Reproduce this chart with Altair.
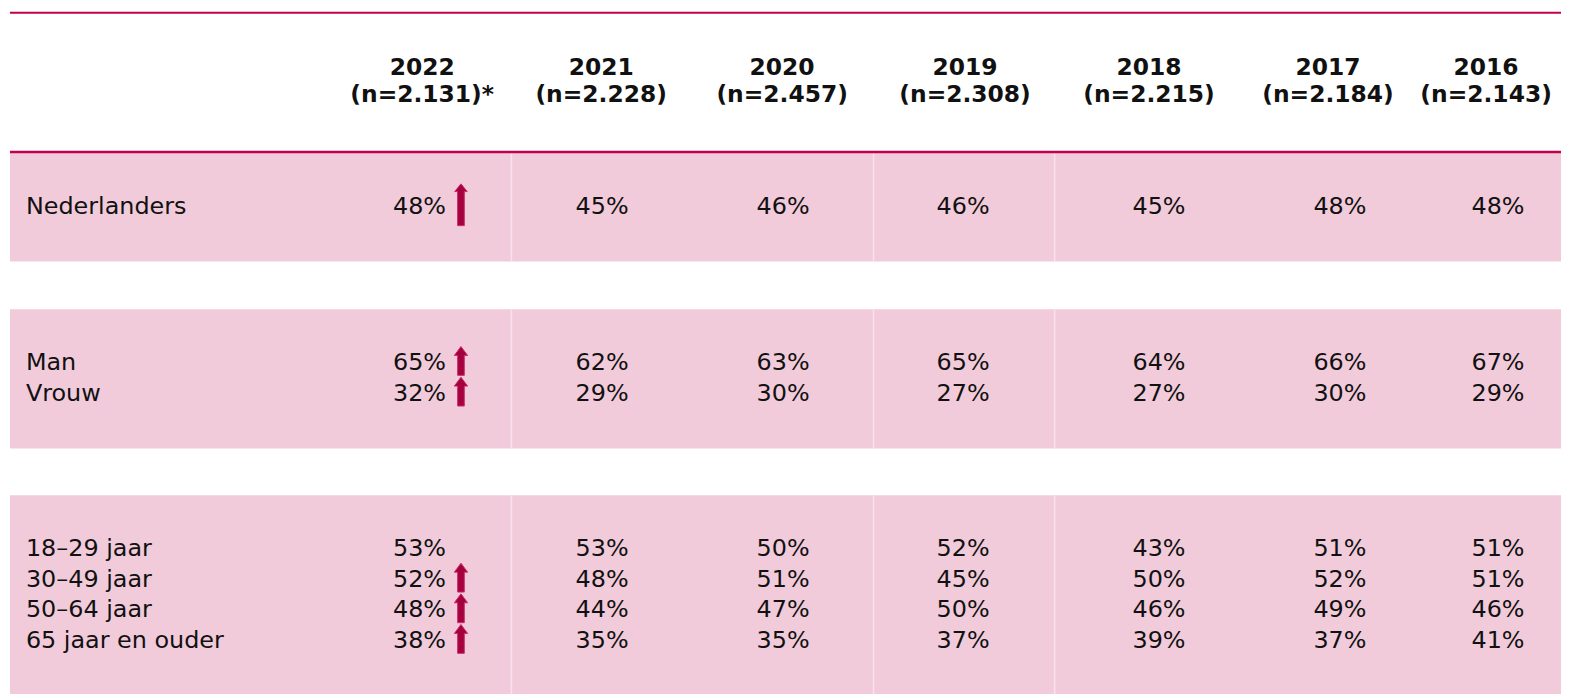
import altair as alt
import pandas as pd

# ---------------- data ----------------
years = ["2022", "2021", "2020", "2019", "2018", "2017", "2016"]
sample_sizes = ["(n=2.131)*", "(n=2.228)", "(n=2.457)", "(n=2.308)",
                "(n=2.215)", "(n=2.184)", "(n=2.143)"]
groups = ["Nederlanders", "Man", "Vrouw", "18–29 jaar", "30–49 jaar",
          "50–64 jaar", "65 jaar en ouder"]
group_section = [0, 1, 1, 2, 2, 2, 2]
val_nederlanders = [48, 45, 46, 46, 45, 48, 48]
val_man = [65, 62, 63, 65, 64, 66, 67]
val_vrouw = [32, 29, 30, 27, 27, 30, 29]
val_18_29 = [53, 53, 50, 52, 43, 51, 51]
val_30_49 = [52, 48, 51, 45, 50, 52, 51]
val_50_64 = [48, 44, 47, 50, 46, 49, 46]
val_65plus = [38, 35, 35, 37, 39, 37, 41]
rise_2022 = [True, True, True, False, True, True, True]

values = [val_nederlanders, val_man, val_vrouw, val_18_29, val_30_49,
          val_50_64, val_65plus]

# ---------------- layout ----------------
W, H = 1561, 686
COL0, STEP = 417.3, 180.9          # centre of first year column, column step (px)
def col(px):                        # pixel -> column units
    return (px - COL0) / STEP

band_tops = [144, 301, 488]
band_bottoms = [253, 441, 700]
LINE = 30.8
FIRST = 61
header_shift = [-1, -2, -1, 2, 6, 5, -17]
value_shift = [0, -1, 0, 0, 16, 17, -5]
sep_px = [506, 870, 1052]
RIGHT_2022 = 23
ARROW_DX = 38
FONT = "DejaVu Sans"
FS = 24
HFS = 23.5
CRIMSON = "#c4004c"
PINK = "#f2cbdb"
INK = "#111111"

xs = alt.Scale(domain=[col(0), col(W)], range=[0, W], nice=False, zero=False)
ys = alt.Scale(domain=[0, H], range=[0, H], nice=False, zero=False)

# row baselines
line_in_sec = []
counter = {}
for s in group_section:
    line_in_sec.append(counter.get(s, 0))
    counter[s] = counter.get(s, 0) + 1
baselines = [band_tops[s] + FIRST + LINE * k for s, k in zip(group_section, line_in_sec)]

# ---------------- tables ----------------
bands = pd.DataFrame({"x": [col(2)] * 3, "x2": [col(W + 40)] * 3,
                      "y": band_tops, "y2": band_bottoms})
seps = pd.DataFrame([{"x": col(p), "y": t, "y2": b}
                     for t, b in zip(band_tops, band_bottoms) for p in sep_px])
hlines = pd.DataFrame({"x": [col(2), col(2)], "x2": [col(W + 40)] * 2,
                       "y": [3, 143], "w": [2.0, 2.5]})
head = pd.DataFrame({"c": [j + header_shift[j] / STEP for j in range(len(years))],
                     "year": years, "n": sample_sizes})
labels = pd.DataFrame({"x": [col(18)] * len(groups), "y": baselines, "t": groups})

rows = []
for i, g in enumerate(groups):
    for j, y in enumerate(years):
        rows.append({"group": g, "year": y, "j": j,
                     "x": j + (RIGHT_2022 if j == 0 else value_shift[j]) / STEP,
                     "y": baselines[i], "t": f"{values[i][j]}%"})
cells = pd.DataFrame(rows)

arrows = pd.DataFrame([{"x": col(COL0 + ARROW_DX), "y": baselines[i] - 9,
                        "sec": group_section[i]}
                       for i in range(len(groups)) if rise_2022[i]])

big_arrow = "M -0.16 1 L -0.16 -0.63 L -0.3 -0.63 L 0 -1 L 0.3 -0.63 L 0.16 -0.63 L 0.16 1 Z"
small_arrow = "M -0.23 1 L -0.23 -0.38 L -0.46 -0.38 L 0 -1 L 0.46 -0.38 L 0.23 -0.38 L 0.23 1 Z"

X = lambda f: alt.X(f, type="quantitative", scale=xs, axis=None)
Y = lambda f: alt.Y(f, type="quantitative", scale=ys, axis=None)

band_layer = alt.Chart(bands).mark_rect(color=PINK).encode(
    x=X("x"), x2="x2", y=Y("y"), y2="y2")
sep_layer = alt.Chart(seps).mark_rule(color="#f8e2ec", strokeWidth=1.5).encode(
    x=X("x"), y=Y("y"), y2="y2")
hline_layer = alt.Chart(hlines).mark_rule(color=CRIMSON).encode(
    x=X("x"), x2="x2", y=Y("y"), strokeWidth=alt.StrokeWidth("w:Q", scale=None, legend=None))

year_layer = alt.Chart(head).mark_text(
    font=FONT, fontWeight="bold", fontSize=HFS, color=INK,
    align="center", baseline="alphabetic").encode(
    x=X("c"), y=alt.value(66), text="year:N")
n_layer = alt.Chart(head).mark_text(
    font=FONT, fontWeight="bold", fontSize=HFS, color=INK,
    align="center", baseline="alphabetic").encode(
    x=X("c"), y=alt.value(93), text="n:N")

label_layer = alt.Chart(labels).mark_text(
    font=FONT, fontSize=FS, color=INK, align="left",
    baseline="alphabetic").encode(x=X("x"), y=Y("y"), text="t:N")

first_layer = alt.Chart(cells).transform_filter("datum.j == 0").mark_text(
    font=FONT, fontSize=FS, color=INK, align="right",
    baseline="alphabetic").encode(x=X("x"), y=Y("y"), text="t:N")
rest_layer = alt.Chart(cells).transform_filter("datum.j > 0").mark_text(
    font=FONT, fontSize=FS, color=INK, align="center",
    baseline="alphabetic").encode(x=X("x"), y=Y("y"), text="t:N")

big_layer = alt.Chart(arrows).transform_filter("datum.sec == 0").mark_point(
    shape=big_arrow, size=1764, filled=True, fill="#a3003f", stroke="#cf2a66",
    strokeWidth=1, opacity=1).encode(x=X("x"), y=Y("y"))
small_layer = alt.Chart(arrows).transform_filter("datum.sec > 0").mark_point(
    shape=small_arrow, size=841, filled=True, fill="#a3003f", stroke="#cf2a66",
    strokeWidth=1, opacity=1).encode(x=X("x"), y=Y("y"))

chart = alt.layer(
    band_layer, sep_layer, hline_layer, year_layer, n_layer, label_layer,
    first_layer, rest_layer, big_layer, small_layer
).properties(
    width=W, height=H, padding=0,
    autosize=alt.AutoSizeParams(type="none"),
    background="white"
).configure_view(stroke=None)

chart.save("out.html", embed_options={"renderer": "svg", "actions": False})
